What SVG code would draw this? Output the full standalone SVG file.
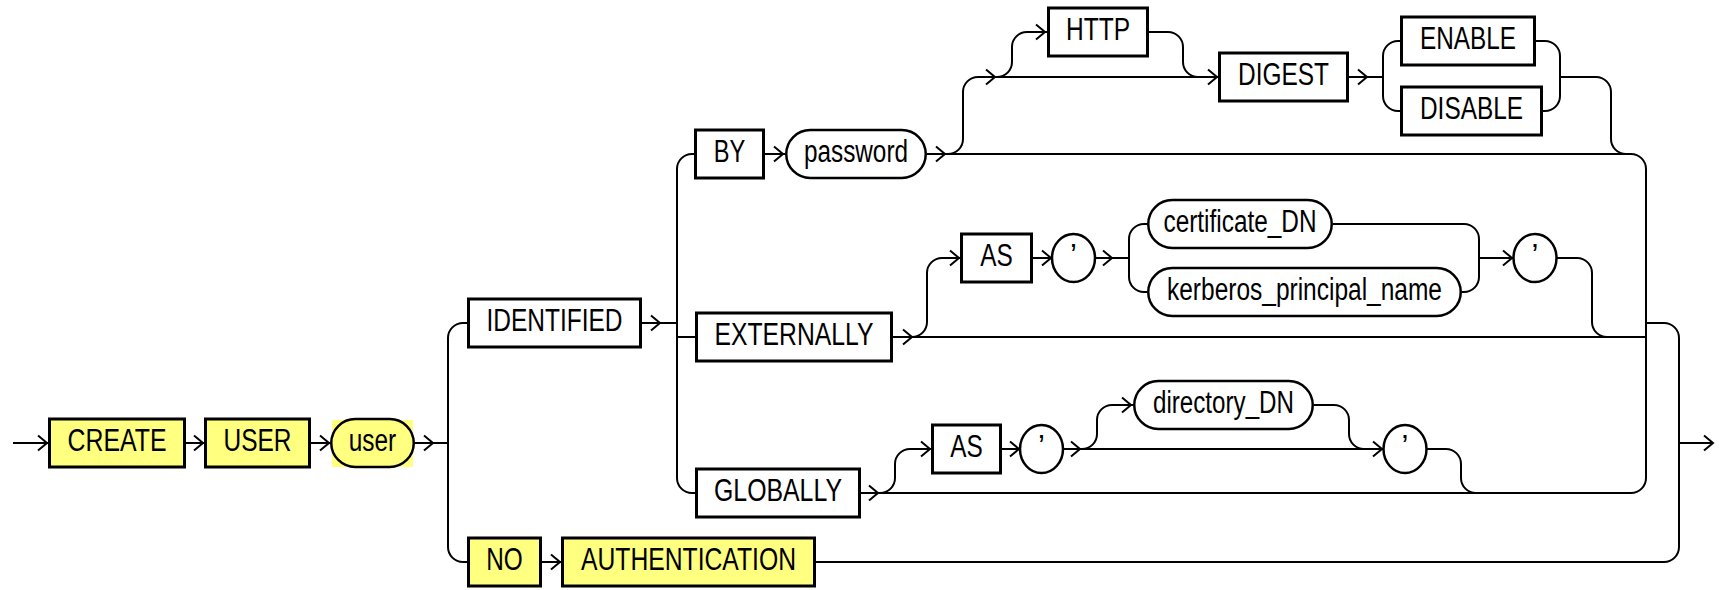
<svg xmlns="http://www.w3.org/2000/svg" xmlns:xlink="http://www.w3.org/1999/xlink" width="1719" height="590" viewBox="0 0 1719 590">
  <style>
    .box { fill: #ffffff; stroke: #000000; stroke-width: 3; }
    .pill { fill: #ffffff; stroke: #000000; stroke-width: 2.5; }
    .hl { fill: #ffff80; }
    .bg { fill: #ffff80; stroke: none; }
    .t { font-family: "Liberation Sans Narrow", "Liberation Sans", Arial, sans-serif; font-size: 31px; fill: #000000; text-anchor: middle; }
    .c { fill: none; stroke: #000000; stroke-width: 2; }
  </style>
  <defs>
    <!-- open chevron arrowhead, tip at the origin, pointing right -->
    <path id="ah" d="M-9,-7.5 L0,0 L-9,7.5" fill="none" stroke="#000000" stroke-width="2"/>
  </defs>
  <rect width="1719" height="590" fill="#ffffff"/>

  <!-- rails -->
  <g id="connectors" class="c">
    <!-- main line -->
    <path d="M13,443 H48"/>
    <path d="M186,443 H204"/>
    <path d="M311,443 H330"/>
    <path d="M415,443 H448"/>
    <!-- IDENTIFIED / NO AUTHENTICATION choice -->
    <path d="M448,443 V338 A15,15 0 0 1 463,323 H467"/>
    <path d="M448,443 V547 A15,15 0 0 0 463,562 H467"/>
    <path d="M642,323 H677"/>
    <!-- BY / EXTERNALLY / GLOBALLY choice -->
    <path d="M677,323 V169 A15,15 0 0 1 692,154 H694"/>
    <path d="M677,323 V478 A15,15 0 0 0 692,493 H695"/>
    <path d="M677,337 H695"/>
    <!-- BY password row and its collector -->
    <path d="M765,154 H785"/>
    <path d="M927,154 H1631 A15,15 0 0 1 1646,169 V478 A15,15 0 0 1 1631,493 H861"/>
    <!-- optional HTTP DIGEST part -->
    <path d="M948,154 A15,15 0 0 0 963,139 V92 A15,15 0 0 1 978,77 H1218"/>
    <path d="M997,77 A15,15 0 0 0 1012,62 V47 A15,15 0 0 1 1027,32 H1047"/>
    <path d="M1149,32 H1168 A15,15 0 0 1 1183,47 V62 A15,15 0 0 0 1198,77"/>
    <path d="M1349,77 H1383"/>
    <path d="M1383,77 V56 A15,15 0 0 1 1398,41 H1400"/>
    <path d="M1383,77 V96 A15,15 0 0 0 1398,111 H1400"/>
    <path d="M1536,41 H1545 A15,15 0 0 1 1560,56 V96 A15,15 0 0 1 1545,111 H1543"/>
    <path d="M1560,77 H1596 A15,15 0 0 1 1611,92 V139 A15,15 0 0 0 1626,154"/>
    <!-- EXTERNALLY row -->
    <path d="M893,337 H1646"/>
    <path d="M912,337 A15,15 0 0 0 927,322 V273 A15,15 0 0 1 942,258 H960"/>
    <path d="M1033,258 H1052"/>
    <path d="M1095,258 H1129"/>
    <path d="M1129,258 V239 A15,15 0 0 1 1144,224 H1147"/>
    <path d="M1129,258 V277 A15,15 0 0 0 1144,292 H1147"/>
    <path d="M1333,224 H1464 A15,15 0 0 1 1479,239 V277 A15,15 0 0 1 1464,292 H1462"/>
    <path d="M1479,258 H1513"/>
    <path d="M1557,258 H1577 A15,15 0 0 1 1592,273 V322 A15,15 0 0 0 1607,337"/>
    <!-- GLOBALLY row -->
    <path d="M880,493 A15,15 0 0 0 895,478 V464 A15,15 0 0 1 910,449 H931"/>
    <path d="M1002,449 H1020"/>
    <path d="M1063,449 H1383"/>
    <path d="M1082,449 A15,15 0 0 0 1097,434 V420 A15,15 0 0 1 1112,405 H1133"/>
    <path d="M1314,405 H1334 A15,15 0 0 1 1349,420 V434 A15,15 0 0 0 1364,449"/>
    <path d="M1427,449 H1446 A15,15 0 0 1 1461,464 V478 A15,15 0 0 0 1476,493"/>
    <!-- NO AUTHENTICATION row and final collector -->
    <path d="M542,562 H561"/>
    <path d="M1646,323 H1664 A15,15 0 0 1 1679,338 V547 A15,15 0 0 1 1664,562 H816"/>
    <path d="M1679,443 H1713"/>

    <!-- arrowheads -->
    <use xlink:href="#ah" x="47" y="443"/>
    <use xlink:href="#ah" x="203" y="443"/>
    <use xlink:href="#ah" x="329" y="443"/>
    <use xlink:href="#ah" x="433" y="443"/>
    <use xlink:href="#ah" x="660" y="323"/>
    <use xlink:href="#ah" x="783" y="154"/>
    <use xlink:href="#ah" x="945" y="154"/>
    <use xlink:href="#ah" x="995" y="77"/>
    <use xlink:href="#ah" x="1045" y="32"/>
    <use xlink:href="#ah" x="1217" y="77"/>
    <use xlink:href="#ah" x="1367" y="77"/>
    <use xlink:href="#ah" x="912" y="337"/>
    <use xlink:href="#ah" x="959" y="258"/>
    <use xlink:href="#ah" x="1051" y="258"/>
    <use xlink:href="#ah" x="1112" y="258"/>
    <use xlink:href="#ah" x="1512" y="258"/>
    <use xlink:href="#ah" x="878" y="493"/>
    <use xlink:href="#ah" x="930" y="449"/>
    <use xlink:href="#ah" x="1019" y="449"/>
    <use xlink:href="#ah" x="1080" y="449"/>
    <use xlink:href="#ah" x="1131" y="405"/>
    <use xlink:href="#ah" x="1382" y="449"/>
    <use xlink:href="#ah" x="560" y="562"/>
    <use xlink:href="#ah" x="1713" y="443"/>
  </g>

  <!-- keywords and parameters -->
  <g id="create">
    <rect class="box hl" x="49.5" y="419" width="135" height="48"/>
    <text class="t" x="117" y="451" textLength="99" lengthAdjust="spacingAndGlyphs">CREATE</text>
  </g>
  <g id="user-kw">
    <rect class="box hl" x="205.5" y="419" width="104" height="48"/>
    <text class="t" x="257.5" y="451" textLength="68" lengthAdjust="spacingAndGlyphs">USER</text>
  </g>
  <g id="user">
    <rect class="bg" x="332" y="420" width="81" height="47"/>
    <rect class="pill hl" x="331.25" y="419" width="82.5" height="48" rx="24" ry="24"/>
    <text class="t" x="372.5" y="451" textLength="47.5" lengthAdjust="spacingAndGlyphs">user</text>
  </g>
  <g id="identified">
    <rect class="box" x="468.5" y="299" width="172" height="48"/>
    <text class="t" x="554.5" y="331" textLength="136" lengthAdjust="spacingAndGlyphs">IDENTIFIED</text>
  </g>
  <g id="no">
    <rect class="box hl" x="468.5" y="538" width="72" height="48"/>
    <text class="t" x="504.5" y="570" textLength="36.5" lengthAdjust="spacingAndGlyphs">NO</text>
  </g>
  <g id="authentication">
    <rect class="box hl" x="562.5" y="538" width="252" height="48"/>
    <text class="t" x="688.5" y="570" textLength="215" lengthAdjust="spacingAndGlyphs">AUTHENTICATION</text>
  </g>
  <g id="by">
    <rect class="box" x="695.5" y="130" width="68" height="48"/>
    <text class="t" x="729.5" y="162" textLength="31.5" lengthAdjust="spacingAndGlyphs">BY</text>
  </g>
  <g id="password">
    <rect class="pill" x="786.25" y="130" width="139.5" height="48" rx="24" ry="24"/>
    <text class="t" x="856" y="162" textLength="104" lengthAdjust="spacingAndGlyphs">password</text>
  </g>
  <g id="http">
    <rect class="box" x="1048.5" y="8" width="99" height="48"/>
    <text class="t" x="1098" y="40" textLength="64" lengthAdjust="spacingAndGlyphs">HTTP</text>
  </g>
  <g id="digest">
    <rect class="box" x="1219.5" y="53" width="128" height="48"/>
    <text class="t" x="1283.5" y="85" textLength="91" lengthAdjust="spacingAndGlyphs">DIGEST</text>
  </g>
  <g id="enable">
    <rect class="box" x="1401.5" y="17" width="133" height="48"/>
    <text class="t" x="1468" y="49" textLength="96" lengthAdjust="spacingAndGlyphs">ENABLE</text>
  </g>
  <g id="disable">
    <rect class="box" x="1401.5" y="87" width="140" height="48"/>
    <text class="t" x="1471.5" y="119" textLength="103" lengthAdjust="spacingAndGlyphs">DISABLE</text>
  </g>
  <g id="externally">
    <rect class="box" x="696.5" y="313" width="195" height="48"/>
    <text class="t" x="794" y="345" textLength="159" lengthAdjust="spacingAndGlyphs">EXTERNALLY</text>
  </g>
  <g id="as-externally">
    <rect class="box" x="961.5" y="234" width="70" height="48"/>
    <text class="t" x="996.5" y="266" textLength="32.5" lengthAdjust="spacingAndGlyphs">AS</text>
  </g>
  <g id="quote-open-externally">
    <ellipse class="pill" cx="1073.5" cy="258" rx="21.5" ry="24"/>
    <text class="t" x="1073.5" y="266">’</text>
  </g>
  <g id="certificate-dn">
    <rect class="pill" x="1148.25" y="200" width="183.5" height="48" rx="24" ry="24"/>
    <text class="t" x="1240" y="232" textLength="153" lengthAdjust="spacingAndGlyphs">certificate_DN</text>
  </g>
  <g id="kerberos-principal-name">
    <rect class="pill" x="1148.25" y="268" width="312.5" height="48" rx="24" ry="24"/>
    <text class="t" x="1304.5" y="300" textLength="275" lengthAdjust="spacingAndGlyphs">kerberos_principal_name</text>
  </g>
  <g id="quote-close-externally">
    <ellipse class="pill" cx="1535" cy="258" rx="21.5" ry="24"/>
    <text class="t" x="1535" y="266">’</text>
  </g>
  <g id="globally">
    <rect class="box" x="696.5" y="469" width="163" height="48"/>
    <text class="t" x="778" y="501" textLength="128" lengthAdjust="spacingAndGlyphs">GLOBALLY</text>
  </g>
  <g id="as-globally">
    <rect class="box" x="932.5" y="425" width="68" height="48"/>
    <text class="t" x="966.5" y="457" textLength="32.5" lengthAdjust="spacingAndGlyphs">AS</text>
  </g>
  <g id="quote-open-globally">
    <ellipse class="pill" cx="1041.5" cy="449" rx="21.5" ry="24"/>
    <text class="t" x="1041.5" y="457">’</text>
  </g>
  <g id="directory-dn">
    <rect class="pill" x="1134.25" y="381" width="178.5" height="48" rx="24" ry="24"/>
    <text class="t" x="1223.5" y="413" textLength="141" lengthAdjust="spacingAndGlyphs">directory_DN</text>
  </g>
  <g id="quote-close-globally">
    <ellipse class="pill" cx="1405" cy="449" rx="21.5" ry="24"/>
    <text class="t" x="1405" y="457">’</text>
  </g>
</svg>
